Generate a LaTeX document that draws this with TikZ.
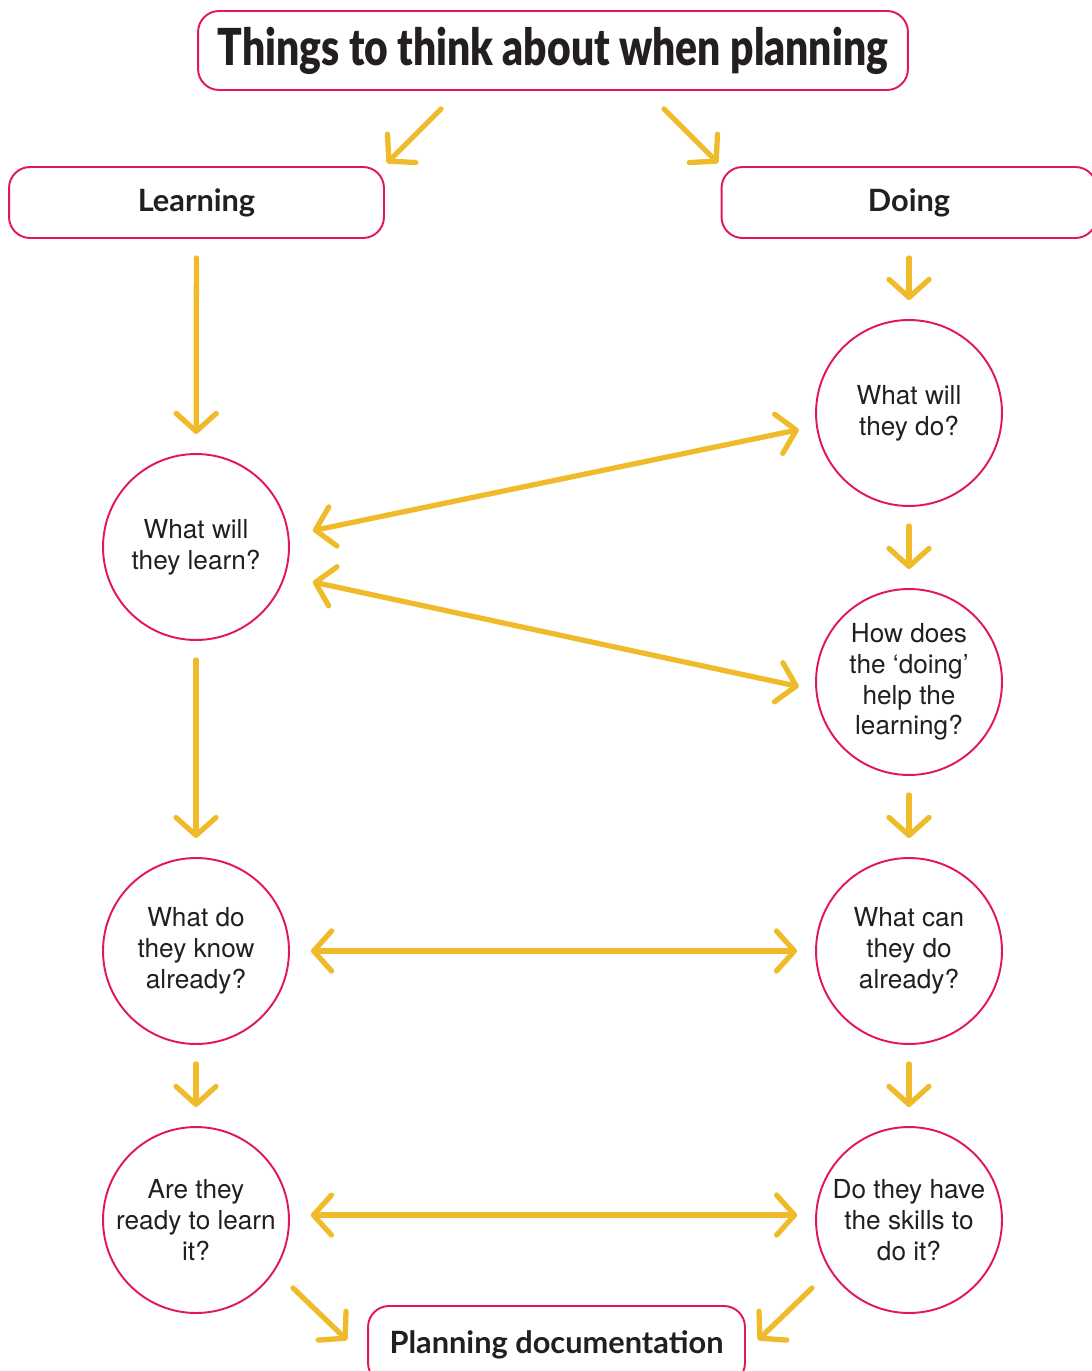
\documentclass[tikz,border=0pt]{standalone}
\usepackage{fontspec}
\setmainfont{TeX Gyre Heros}
\newfontfamily\headfont{Lato}
\newfontfamily\titlefont[FakeStretch=0.8]{Lato Black}
\usetikzlibrary{arrows.meta,calc}

\definecolor{framepink}{HTML}{E2175A}
\definecolor{arrowyellow}{HTML}{F0BB2B}
\definecolor{inkgrey}{HTML}{231F20}

\begin{document}
\begin{tikzpicture}[
  x=0.02cm, y=-0.02cm,
  text=inkgrey,
  box/.style={draw=framepink, line width=1.1pt, rounded corners=0.42cm,
              minimum width=7.5cm, minimum height=1.42cm, inner sep=0pt,
              font=\headfont\bfseries\fontsize{17.5}{20}\selectfont},
  quest/.style={circle, draw=framepink, line width=1.1pt, minimum size=3.72cm,
                inner sep=0pt, align=center,
                font=\fontsize{14.9}{17.5}\selectfont},
  arr/.style={draw=arrowyellow, line width=3pt, line cap=round,
              -{Straight Barb[length=0.36cm,width=0.8cm,round]}},
  dbl/.style={arr, {Straight Barb[length=0.36cm,width=0.8cm,round]}-{Straight Barb[length=0.36cm,width=0.8cm,round]}},
  gap/.style={shorten <=0.38cm, shorten >=0.38cm}
]
\useasboundingbox (0,0) rectangle (1091,1371);

% -----------------------
% Layout parameters
% -----------------------
\def\xL{196}
\def\xR{909}

\def\yA{413}   % what will they do
\def\yB{547}   % what will they learn
\def\yC{682}   % how does the doing
\def\yD{951}   % already
\def\yE{1220}  % ready / skills

% -----------------------
% Headings
% -----------------------
\node[box, minimum width=14.2cm, minimum height=1.58cm,
      font=\titlefont\fontsize{29}{32}\selectfont] (title) at (553,50.5)
  {Things to think about when planning};

\node[box] (learning) at (196.5,202.5) {Learning};
\node[box] (doing) at (\xR,202.5) {Doing};

\coordinate (tl0) at (441,109);
\coordinate (tl1) at (387,163);
\coordinate (tr0) at (664,109);
\coordinate (tr1) at (718,163);
\draw[arr] (tl0) -- (tl1);
\draw[arr] (tr0) -- (tr1);

% -----------------------
% Learning column
% -----------------------
\node[quest] (qlearn) at (\xL,\yB) {What will\\they learn?};
\node[quest] (qknow) at (\xL,\yD) {What do\\they know\\already?};
\node[quest] (qready) at (\xL,\yE) {Are they\\ready to learn\\it?};

\draw[arr, gap] (learning) -- (qlearn);
\draw[arr, gap] (qlearn) -- (qknow);
\draw[arr, gap] (qknow) -- (qready);

% -----------------------
% Doing column
% -----------------------
\node[quest] (qdo) at (\xR,\yA) {What will\\they do?};
\node[quest] (qhow) at (\xR,\yC) {How does\\the `doing'\\help the\\learning?};
\node[quest] (qcan) at (\xR,\yD) {What can\\they do\\already?};
\node[quest] (qskills) at (\xR,\yE) {Do they have\\the skills to\\do it?};

\draw[arr, gap] (doing) -- (qdo);
\draw[arr, gap] (qdo) -- (qhow);
\draw[arr, gap] (qhow) -- (qcan);
\draw[arr, gap] (qcan) -- (qskills);

% -----------------------
% Links across
% -----------------------
\draw[dbl, shorten <=0.48cm, shorten >=0.35cm] (qlearn.7) -- (qdo.188);
\draw[dbl, shorten <=0.56cm, shorten >=0.34cm] (qlearn.-18) -- (qhow.185);
\draw[dbl, shorten <=0.42cm, shorten >=0.36cm] (qknow.east) -- (qcan.west);
\draw[dbl, shorten <=0.42cm, shorten >=0.36cm] (qready.3) -- (qskills.177);

% -----------------------
% Result
% -----------------------
\node[box, minimum width=7.54cm, minimum height=1.56cm] (plan) at (556.5,1345)
  {Planning documentation};

\coordinate (bl0) at (293,1288);
\coordinate (bl1) at (347,1340);
\coordinate (br0) at (812,1288);
\coordinate (br1) at (758,1340);
\draw[arr] (bl0) -- (bl1);
\draw[arr] (br0) -- (br1);

\end{tikzpicture}
\end{document}
